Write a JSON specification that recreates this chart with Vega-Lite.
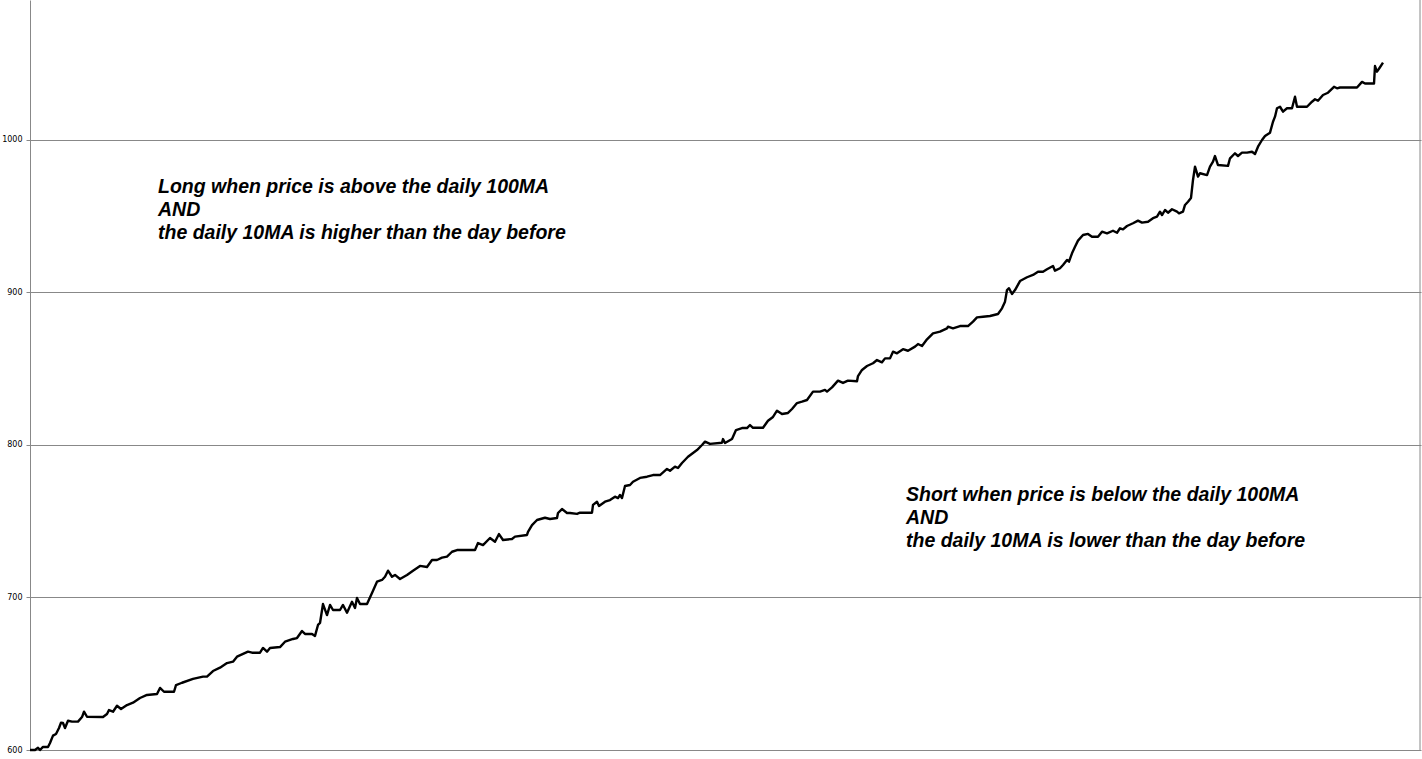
{
  "$schema": "https://vega.github.io/schema/vega-lite/v6.json",
  "width": 1391,
  "height": 750,
  "autosize": "none",
  "padding": {"left": 30, "top": 0, "right": 1, "bottom": 9},
  "background": "white",
  "config": {"view": {"stroke": null}},
  "datasets": {
    "equity": [
      {"day": 0, "value": 600.0}, {"day": 5, "value": 600.0}, {"day": 8, "value": 601.5}, {"day": 10, "value": 600.0},
      {"day": 13, "value": 602.0}, {"day": 18, "value": 602.0}, {"day": 20, "value": 604.6}, {"day": 23, "value": 609.4},
      {"day": 26, "value": 610.5}, {"day": 29, "value": 614.4}, {"day": 31, "value": 617.9}, {"day": 33, "value": 617.7},
      {"day": 35, "value": 614.4}, {"day": 38, "value": 619.2}, {"day": 42, "value": 618.6}, {"day": 48, "value": 618.6},
      {"day": 52, "value": 621.6}, {"day": 54, "value": 625.1}, {"day": 57, "value": 621.8}, {"day": 73, "value": 621.6},
      {"day": 77, "value": 623.6}, {"day": 79, "value": 626.2}, {"day": 83, "value": 625.1}, {"day": 87, "value": 629.0},
      {"day": 91, "value": 626.9}, {"day": 97, "value": 629.5}, {"day": 103, "value": 631.0}, {"day": 110, "value": 634.1},
      {"day": 117, "value": 636.1}, {"day": 127, "value": 636.7}, {"day": 130, "value": 640.7}, {"day": 134, "value": 638.2},
      {"day": 144, "value": 638.2}, {"day": 146, "value": 642.6}, {"day": 152, "value": 644.1}, {"day": 163, "value": 646.6},
      {"day": 173, "value": 648.1}, {"day": 177, "value": 648.1}, {"day": 183, "value": 651.8}, {"day": 190, "value": 654.0},
      {"day": 197, "value": 657.0}, {"day": 203, "value": 657.9}, {"day": 207, "value": 661.2}, {"day": 218, "value": 664.5},
      {"day": 222, "value": 663.8}, {"day": 230, "value": 663.8}, {"day": 233, "value": 666.9}, {"day": 237, "value": 664.5},
      {"day": 240, "value": 666.9}, {"day": 250, "value": 667.5}, {"day": 255, "value": 671.0}, {"day": 263, "value": 672.8},
      {"day": 267, "value": 673.4}, {"day": 272, "value": 678.0}, {"day": 275, "value": 676.1}, {"day": 282, "value": 676.1},
      {"day": 285, "value": 674.8}, {"day": 288, "value": 682.0}, {"day": 290, "value": 683.3}, {"day": 293, "value": 695.7},
      {"day": 297, "value": 688.5}, {"day": 300, "value": 695.1}, {"day": 303, "value": 691.8}, {"day": 310, "value": 691.8},
      {"day": 313, "value": 695.1}, {"day": 317, "value": 690.0}, {"day": 322, "value": 697.2}, {"day": 325, "value": 693.1},
      {"day": 327, "value": 699.7}, {"day": 330, "value": 695.7}, {"day": 337, "value": 695.7}, {"day": 342, "value": 703.0},
      {"day": 347, "value": 710.4}, {"day": 352, "value": 711.5}, {"day": 355, "value": 713.6}, {"day": 358, "value": 717.6},
      {"day": 362, "value": 713.6}, {"day": 365, "value": 714.8}, {"day": 370, "value": 712.1}, {"day": 377, "value": 714.8},
      {"day": 383, "value": 717.6}, {"day": 390, "value": 720.7}, {"day": 397, "value": 720.0}, {"day": 402, "value": 724.6},
      {"day": 407, "value": 724.6}, {"day": 412, "value": 726.1}, {"day": 417, "value": 726.8}, {"day": 422, "value": 730.0},
      {"day": 427, "value": 731.1}, {"day": 445, "value": 731.1}, {"day": 448, "value": 735.7}, {"day": 453, "value": 734.4},
      {"day": 460, "value": 739.0}, {"day": 465, "value": 736.6}, {"day": 469, "value": 741.6}, {"day": 473, "value": 737.7},
      {"day": 482, "value": 738.4}, {"day": 485, "value": 739.9}, {"day": 497, "value": 741.0}, {"day": 498, "value": 743.1},
      {"day": 502, "value": 747.5}, {"day": 507, "value": 750.8}, {"day": 515, "value": 752.3}, {"day": 520, "value": 751.5},
      {"day": 527, "value": 752.1}, {"day": 528, "value": 755.4}, {"day": 532, "value": 758.0}, {"day": 537, "value": 755.4},
      {"day": 540, "value": 755.4}, {"day": 547, "value": 754.8}, {"day": 550, "value": 755.6}, {"day": 562, "value": 755.6},
      {"day": 563, "value": 760.7}, {"day": 567, "value": 762.8}, {"day": 569, "value": 760.0}, {"day": 575, "value": 762.8},
      {"day": 580, "value": 763.9}, {"day": 585, "value": 766.1}, {"day": 588, "value": 765.2}, {"day": 590, "value": 767.2},
      {"day": 592, "value": 765.2}, {"day": 595, "value": 773.1}, {"day": 600, "value": 773.8}, {"day": 603, "value": 775.9},
      {"day": 610, "value": 778.4}, {"day": 617, "value": 779.2}, {"day": 623, "value": 780.3}, {"day": 630, "value": 780.3},
      {"day": 637, "value": 784.3}, {"day": 640, "value": 783.1}, {"day": 645, "value": 785.8}, {"day": 648, "value": 784.9},
      {"day": 652, "value": 788.2}, {"day": 658, "value": 792.3}, {"day": 663, "value": 794.8}, {"day": 667, "value": 796.7},
      {"day": 672, "value": 800.0}, {"day": 675, "value": 802.2}, {"day": 680, "value": 800.7}, {"day": 692, "value": 801.5},
      {"day": 693, "value": 803.9}, {"day": 695, "value": 801.3}, {"day": 702, "value": 803.9}, {"day": 706, "value": 809.8},
      {"day": 712, "value": 811.1}, {"day": 717, "value": 811.1}, {"day": 720, "value": 813.1}, {"day": 723, "value": 811.3},
      {"day": 733, "value": 811.3}, {"day": 738, "value": 815.9}, {"day": 743, "value": 818.4}, {"day": 747, "value": 822.5},
      {"day": 752, "value": 820.3}, {"day": 758, "value": 821.0}, {"day": 762, "value": 823.6}, {"day": 767, "value": 827.5},
      {"day": 772, "value": 828.4}, {"day": 777, "value": 829.5}, {"day": 783, "value": 835.0}, {"day": 790, "value": 835.0},
      {"day": 795, "value": 836.1}, {"day": 797, "value": 835.0}, {"day": 802, "value": 837.8}, {"day": 808, "value": 842.2},
      {"day": 813, "value": 840.7}, {"day": 818, "value": 842.2}, {"day": 827, "value": 841.8}, {"day": 828, "value": 845.2},
      {"day": 832, "value": 849.2}, {"day": 837, "value": 851.8}, {"day": 843, "value": 853.6}, {"day": 847, "value": 855.7},
      {"day": 852, "value": 854.2}, {"day": 855, "value": 856.8}, {"day": 860, "value": 856.8}, {"day": 863, "value": 861.2},
      {"day": 867, "value": 860.1}, {"day": 873, "value": 862.8}, {"day": 878, "value": 861.8}, {"day": 885, "value": 864.5},
      {"day": 888, "value": 866.2}, {"day": 892, "value": 864.9}, {"day": 897, "value": 869.3}, {"day": 903, "value": 873.2},
      {"day": 910, "value": 874.3}, {"day": 917, "value": 876.5}, {"day": 918, "value": 877.6}, {"day": 923, "value": 876.5},
      {"day": 930, "value": 878.0}, {"day": 938, "value": 878.0}, {"day": 943, "value": 880.9}, {"day": 947, "value": 883.7},
      {"day": 953, "value": 884.1}, {"day": 960, "value": 884.6}, {"day": 968, "value": 885.9}, {"day": 972, "value": 889.6},
      {"day": 975, "value": 894.0}, {"day": 977, "value": 901.6}, {"day": 979, "value": 902.8}, {"day": 982, "value": 899.0},
      {"day": 985, "value": 901.6}, {"day": 990, "value": 907.5}, {"day": 997, "value": 910.0}, {"day": 1003, "value": 911.5},
      {"day": 1008, "value": 913.6}, {"day": 1013, "value": 913.6}, {"day": 1017, "value": 915.2}, {"day": 1023, "value": 917.4},
      {"day": 1025, "value": 914.3}, {"day": 1030, "value": 915.9}, {"day": 1033, "value": 918.0}, {"day": 1037, "value": 921.3},
      {"day": 1039, "value": 920.2}, {"day": 1042, "value": 925.7}, {"day": 1045, "value": 930.0}, {"day": 1048, "value": 934.0},
      {"day": 1053, "value": 937.7}, {"day": 1058, "value": 938.4}, {"day": 1062, "value": 936.6}, {"day": 1068, "value": 936.6},
      {"day": 1072, "value": 939.9}, {"day": 1077, "value": 938.8}, {"day": 1083, "value": 940.5}, {"day": 1087, "value": 939.2},
      {"day": 1090, "value": 942.1}, {"day": 1093, "value": 941.4}, {"day": 1097, "value": 943.6}, {"day": 1103, "value": 945.4},
      {"day": 1108, "value": 947.1}, {"day": 1112, "value": 945.8}, {"day": 1118, "value": 946.4}, {"day": 1123, "value": 948.7},
      {"day": 1127, "value": 949.7}, {"day": 1130, "value": 953.0}, {"day": 1132, "value": 950.8}, {"day": 1135, "value": 954.1},
      {"day": 1138, "value": 952.3}, {"day": 1142, "value": 954.6}, {"day": 1147, "value": 953.0}, {"day": 1149, "value": 951.9},
      {"day": 1153, "value": 953.0}, {"day": 1155, "value": 957.4}, {"day": 1158, "value": 959.5}, {"day": 1161, "value": 962.0},
      {"day": 1163, "value": 973.8}, {"day": 1165, "value": 982.5}, {"day": 1168, "value": 976.0}, {"day": 1170, "value": 978.2},
      {"day": 1177, "value": 977.0}, {"day": 1180, "value": 982.5}, {"day": 1183, "value": 985.8}, {"day": 1185, "value": 989.5},
      {"day": 1188, "value": 983.6}, {"day": 1198, "value": 983.0}, {"day": 1200, "value": 988.0}, {"day": 1205, "value": 991.3},
      {"day": 1208, "value": 989.5}, {"day": 1212, "value": 991.7}, {"day": 1217, "value": 991.7}, {"day": 1222, "value": 992.3},
      {"day": 1225, "value": 990.8}, {"day": 1228, "value": 995.6}, {"day": 1232, "value": 1000.0}, {"day": 1235, "value": 1002.6},
      {"day": 1240, "value": 1004.8}, {"day": 1243, "value": 1012.0}, {"day": 1245, "value": 1015.3}, {"day": 1247, "value": 1020.8},
      {"day": 1250, "value": 1021.8}, {"day": 1253, "value": 1018.6}, {"day": 1257, "value": 1020.8}, {"day": 1262, "value": 1020.8},
      {"day": 1265, "value": 1028.4}, {"day": 1267, "value": 1021.8}, {"day": 1277, "value": 1021.8}, {"day": 1282, "value": 1025.1},
      {"day": 1285, "value": 1026.7}, {"day": 1288, "value": 1025.7}, {"day": 1293, "value": 1029.5}, {"day": 1298, "value": 1031.0},
      {"day": 1304, "value": 1034.9}, {"day": 1307, "value": 1033.9}, {"day": 1310, "value": 1034.4}, {"day": 1327, "value": 1034.4},
      {"day": 1332, "value": 1038.1}, {"day": 1335, "value": 1037.0}, {"day": 1344, "value": 1037.0}, {"day": 1345, "value": 1048.5},
      {"day": 1347, "value": 1044.8}, {"day": 1350, "value": 1047.7}, {"day": 1353, "value": 1050.7}
    ],
    "notes": [
      {"day": 128, "value": 965.2, "label": "Long when price is above the daily 100MA\nAND\nthe daily 10MA is higher than the day before"},
      {"day": 876, "value": 763.3, "label": "Short when price is below the daily 100MA\nAND\nthe daily 10MA is lower than the day before"}
    ],
    "edge": [{"day": 1390}]
  },
  "layer": [
    {
      "data": {"name": "edge"},
      "mark": {"type": "rule", "color": "#888888", "strokeWidth": 1},
      "encoding": {
        "x": {"field": "day", "type": "quantitative", "scale": {"domain": [0, 1391], "nice": false, "zero": false}, "axis": null}
      }
    },
    {
      "data": {"name": "equity"},
      "mark": {"type": "line", "color": "#000000", "strokeWidth": 2.4, "strokeJoin": "round"},
      "encoding": {
        "x": {"field": "day", "type": "quantitative", "scale": {"domain": [0, 1391], "nice": false, "zero": false}, "axis": null},
        "y": {
          "field": "value",
          "type": "quantitative",
          "scale": {"domain": [600, 1091.8], "nice": false, "zero": false},
          "axis": {
            "title": null,
            "values": [600, 700, 800, 900, 1000],
            "format": "d",
            "grid": true,
            "gridColor": "#888888",
            "gridOpacity": 1,
            "gridWidth": 1,
            "domainColor": "#888888",
            "tickColor": "#888888",
            "tickSize": 4,
            "labelFont": "DejaVu Sans",
            "labelFontSize": 8,
            "labelColor": "#000000",
            "labelPadding": 4
          }
        }
      }
    },
    {
      "data": {"name": "notes"},
      "mark": {
        "type": "text",
        "align": "left",
        "baseline": "alphabetic",
        "lineBreak": "\n",
        "lineHeight": 23,
        "font": "Liberation Sans",
        "fontSize": 19.5,
        "fontWeight": "bold",
        "fontStyle": "italic",
        "color": "#000000"
      },
      "encoding": {
        "x": {"field": "day", "type": "quantitative"},
        "y": {"field": "value", "type": "quantitative"},
        "text": {"field": "label", "type": "nominal"}
      }
    }
  ]
}
